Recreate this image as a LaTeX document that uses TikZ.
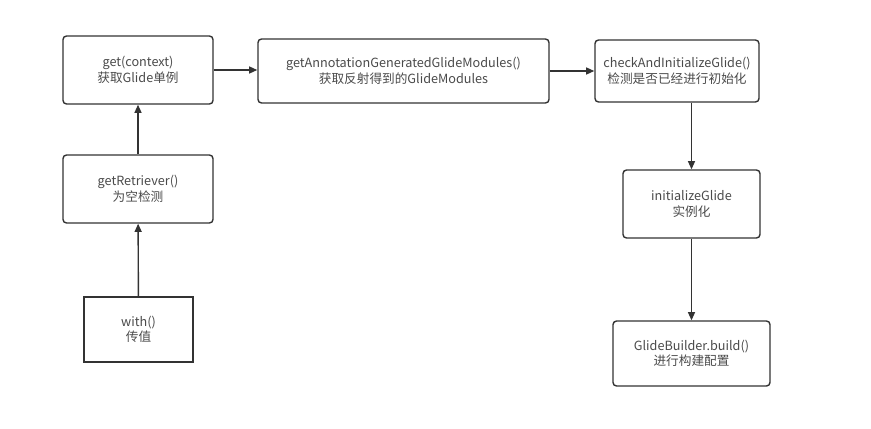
\documentclass[tikz,border=0pt]{standalone}
\usepackage{fontspec}
\setmainfont{Noto Sans CJK SC}
\usetikzlibrary{positioning, arrows.meta, calc}
\definecolor{flowLine}{HTML}{333333}
\definecolor{flowText}{HTML}{4A4A4A}

\tikzset{
  stepbox/.style={draw=flowLine, line width=1.2pt, rounded corners=3pt, align=center,
    text=flowText, font=\fontsize{10.8}{13.2}\selectfont, inner sep=0pt},
  flow/.style={draw=flowLine, line width=1.2pt, -{Triangle[length=7pt, width=6pt]}}
}

\begin{document}
\begin{tikzpicture}
  \useasboundingbox (0,0) rectangle (26.13,-12.84);
  % left column
  \node[stepbox, minimum width=4.5cm, minimum height=2.04cm] (get) at (4.14,-2.10) {get(context)\\获取Glide单例};
  \node[stepbox, minimum width=4.5cm, minimum height=2.04cm] (retriever) at (4.14,-5.67) {getRetriever()\\为空检测};
  \node[stepbox, rounded corners=0pt, minimum width=3.27cm, minimum height=1.95cm] (with) at (4.155,-9.885) {with()\\传值};
  % top row
  \node[stepbox, minimum width=8.73cm, minimum height=1.92cm] (modules) at (12.105,-2.13) {getAnnotationGeneratedGlideModules()\\获取反射得到的GlideModules};
  \node[stepbox, minimum width=4.92cm, minimum height=1.86cm] (check) at (20.31,-2.13) {checkAndInitializeGlide()\\检测是否已经进行初始化};
  % right column
  \node[stepbox, minimum width=4.11cm, minimum height=2.04cm] (init) at (20.745,-6.12) {initializeGlide\\实例化};
  \node[stepbox, minimum width=4.71cm, minimum height=1.95cm] (build) at (20.745,-10.605) {GlideBuilder.build()\\进行构建配置};

  \draw[flow] (with) -- (retriever);
  \draw[flow] (retriever) -- (get);
  \draw[flow] (get.east) -- (get.east -| modules.west);
  \draw[flow] (modules) -- (check);
  \draw[flow] (init.north |- check.south) -- (init.north);
  \draw[flow] (init) -- (build);
\end{tikzpicture}
\end{document}
